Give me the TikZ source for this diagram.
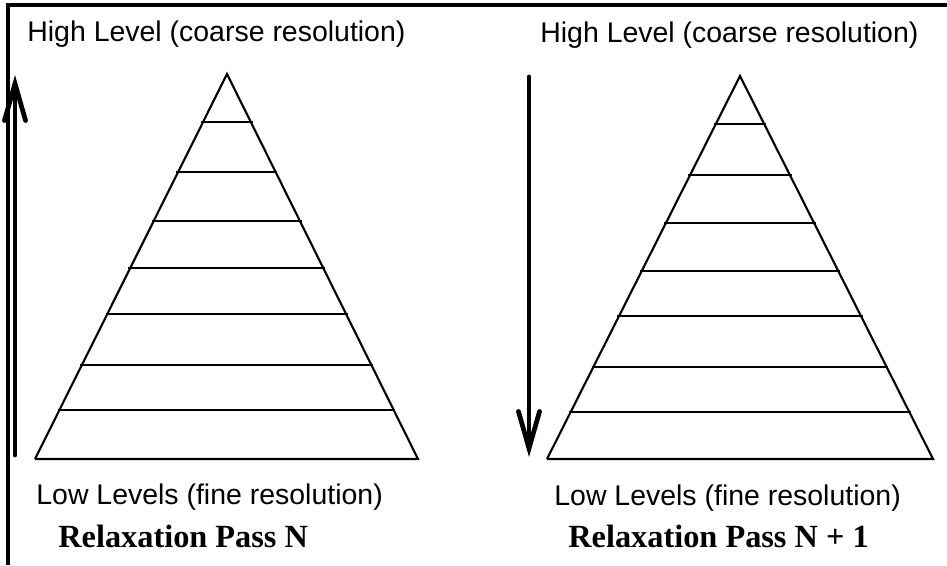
\documentclass[tikz,border=0pt]{standalone}
\usepackage{fontspec}
\setmainfont{Liberation Sans}
\newfontfamily\passfont{Liberation Serif}
\usepackage{tikz}
\usetikzlibrary{arrows.meta,calc}

\tikzset{
  lvl/.style={anchor=base west, inner sep=0pt, font=\fontsize{16.2}{19}\selectfont},
  pass/.style={anchor=base west, inner sep=0pt, font=\passfont\bfseries\fontsize{18.4}{22}\selectfont},
  pyr/.style={line width=1.2pt},
  rung/.style={line width=1.2pt, shorten <=-1pt, shorten >=-1pt},
  dirarrow/.style={line width=2.7pt, line cap=round, -{Straight Barb[length=21pt, width=12pt, line cap=round]}}
}

\begin{document}
\begin{tikzpicture}[x=0.02cm, y=-0.02cm]
\useasboundingbox (0,0) rectangle (947,565);
\draw[line width=1.9pt] (947,5) -- (8,5) -- (8,565);

% left pyramid: pass N, going up
\coordinate (apexL) at (227,74);
\coordinate (blL) at (35,459);
\coordinate (brL) at (418,459);
\draw[pyr] (blL) -- (apexL) -- (brL) -- (blL);
\foreach \yy [evaluate=\yy as \t using (\yy-74)/385] in {122,172,221,268,314,365,410}
  \draw[rung] ($(apexL)!\t!(blL)$) -- ($(apexL)!\t!(brL)$);
\coordinate (upS) at (15,455);
\coordinate (upE) at (15,75);
\draw[dirarrow] (upS) -- (upE);
\node[lvl] (hiL) at (27,41) {High Level (coarse resolution)};
\node[lvl] (loL) at (36,504) {Low Levels (fine resolution)};
\node[pass] (passL) at (58,547) {Relaxation Pass N};

% right pyramid: pass N+1, going down
\coordinate (apexR) at (740,76);
\coordinate (blR) at (547,459);
\coordinate (brR) at (933,459);
\draw[pyr] (blR) -- (apexR) -- (brR) -- (blR);
\foreach \yy [evaluate=\yy as \t using (\yy-76)/383] in {124,175,223,271,316,367,412}
  \draw[rung] ($(apexR)!\t!(blR)$) -- ($(apexR)!\t!(brR)$);
\coordinate (dnS) at (529,77);
\coordinate (dnE) at (529,457);
\draw[dirarrow] (dnS) -- (dnE);
\node[lvl] (hiR) at (540,42) {High Level (coarse resolution)};
\node[lvl] (loR) at (554,505) {Low Levels (fine resolution)};
\node[pass] (passR) at (568,547) {Relaxation Pass N + 1};
\end{tikzpicture}
\end{document}
